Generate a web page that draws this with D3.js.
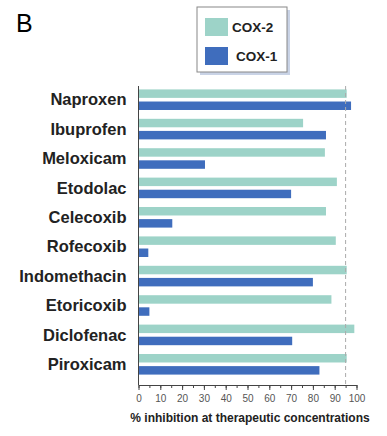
<html>
<script src="https://d3js.org/d3.v7.min.js"></script>
<style>
body { margin: 0; background: #fff; }
text { font-family: "Liberation Sans", Arial, sans-serif; }
</style>
<body></body>
<script>
const drugs = ['Naproxen','Ibuprofen','Meloxicam','Etodolac','Celecoxib',
  'Rofecoxib','Indomethacin','Etoricoxib','Diclofenac','Piroxicam'];
const cox2 = [95.5, 75.5, 85.5, 91, 86, 90.5, 95.5, 88.5, 99, 95.5];
const cox1 = [97.5, 86, 30.5, 70, 15.5, 4.5, 80, 5, 70.5, 83];
const seriesNames = ['COX-2','COX-1'];
const colors = {'COX-2':'#9dd3c8', 'COX-1':'#3f6dbd'};
const xTicks = [0,10,20,30,40,50,60,70,80,90,100];
const refLine = 95;

const width = 387, height = 436;

const rows = drugs.map((d,i)=>({drug:d, 'COX-2':cox2[i], 'COX-1':cox1[i]}));

const svg = d3.select('body').append('svg')
  .attr('width', width)
  .attr('height', height);

const x = d3.scaleLinear().domain([0,100]).range([138.5, 356.5]);
const y = d3.scaleBand().domain(drugs).range([85, 379])
  .paddingInner(0.3).paddingOuter(0.15);
const ySub = d3.scaleBand().domain(seriesNames).range([0, y.bandwidth()])
  .paddingInner(0.3);

// panel letter
svg.append('text')
  .attr('x', 16).attr('y', 32)
  .attr('font-size', 25)
  .text('B');

// bars
svg.append('g')
  .selectAll('g')
    .data(rows)
  .join('g')
    .attr('transform', d=>`translate(0,${y(d.drug)})`)
    .selectAll('rect')
      .data(d=>seriesNames.map(s=>({s, v:d[s]})))
    .join('rect')
      .attr('x', x(0))
      .attr('y', d=>ySub(d.s))
      .attr('width', d=>x(d.v)-x(0))
      .attr('height', ySub.bandwidth())
      .attr('fill', d=>colors[d.s]);

// dashed reference line
svg.append('line')
  .attr('x1', x(refLine)).attr('x2', x(refLine))
  .attr('y1', 86).attr('y2', 385)
  .attr('stroke', '#aaa')
  .attr('stroke-dasharray', '4,3');

// y axis line + labels
svg.append('line')
  .attr('x1', x(0)).attr('x2', x(0))
  .attr('y1', 86).attr('y2', 385)
  .attr('stroke', '#444');

svg.append('g')
  .selectAll('text')
    .data(drugs)
  .join('text')
    .attr('x', 126.5)
    .attr('y', d=>y(d)+y.bandwidth()/2)
    .attr('dy', '0.35em')
    .attr('text-anchor', 'end')
    .attr('font-size', 16.5)
    .attr('font-weight', 'bold')
    .attr('fill', '#222')
    .text(d=>d);

// x axis
const xAxis = svg.append('g')
  .attr('transform', 'translate(0,385)');
xAxis.append('g')
  .call(d3.axisBottom(x).tickValues(d3.range(0,101,5)).tickSize(3).tickFormat(''))
  .call(g=>g.select('.domain').remove())
  .selectAll('line').attr('stroke','#444');
xAxis.append('g')
  .call(d3.axisBottom(x).tickValues(xTicks).tickSize(5).tickSizeOuter(0))
  .call(g=>g.select('.domain').attr('stroke','#444'))
  .call(g=>g.selectAll('line').attr('stroke','#444'))
  .call(g=>g.selectAll('text')
    .attr('font-size', 10)
    .attr('fill', '#555')
    .attr('dy', '0.85em'));

svg.append('text')
  .attr('x', 250)
  .attr('y', 418)
  .attr('dy', '0.35em')
  .attr('text-anchor', 'middle')
  .attr('font-size', 12)
  .attr('font-weight', 'bold')
  .attr('fill', '#222')
  .text('% inhibition at therapeutic concentrations');

// legend
const legend = svg.append('g').attr('transform', 'translate(197,7)');
legend.append('rect')
  .attr('x', 3).attr('y', 3)
  .attr('width', 90).attr('height', 65)
  .attr('fill', '#c9d3e6');
legend.append('rect')
  .attr('width', 90).attr('height', 65)
  .attr('fill', '#fff')
  .attr('stroke', '#888');
legend.selectAll('g')
    .data(seriesNames)
  .join('g')
    .attr('transform', (d,i)=>`translate(8,${11 + i*29})`)
    .call(g=>{
      g.append('rect')
        .attr('width', 23).attr('height', 18)
        .attr('fill', d=>colors[d]);
      g.append('text')
        .attr('x', (d,i)=>i===0 ? 27 : 31)
        .attr('y', 9)
        .attr('dy', '0.35em')
        .attr('font-size', 13.5)
        .attr('font-weight', 'bold')
        .attr('fill', '#222')
        .text(d=>d);
    });
</script>
</html>
